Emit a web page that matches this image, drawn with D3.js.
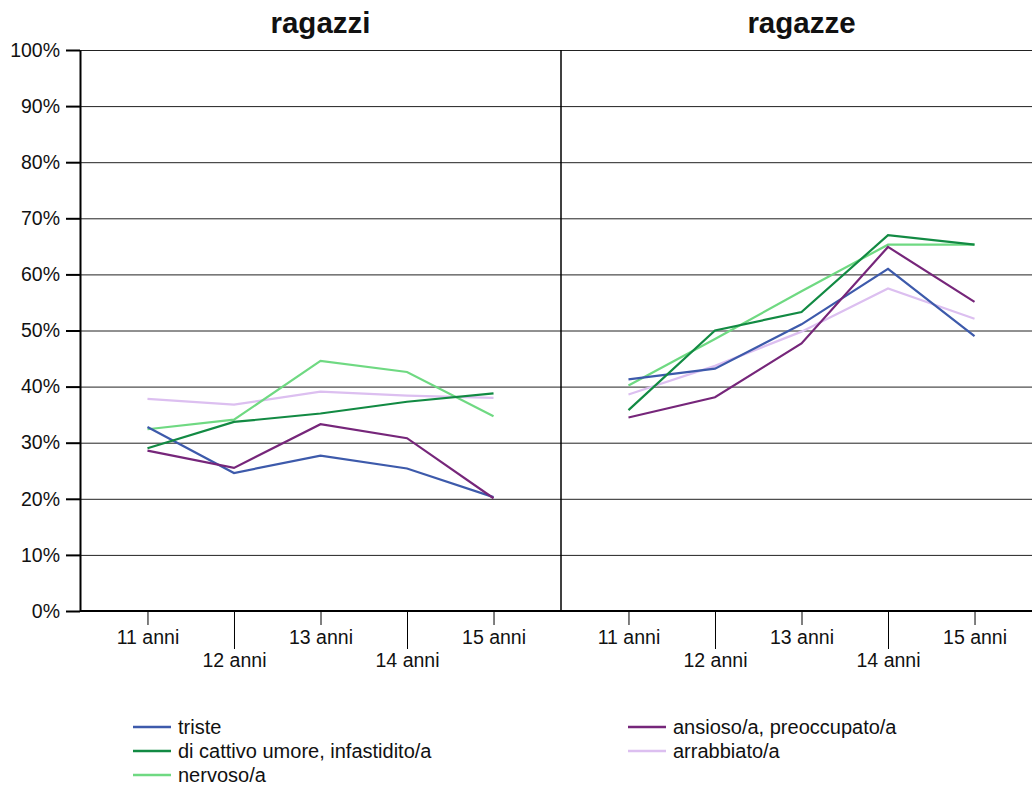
<!DOCTYPE html>
<html>
<head>
<meta charset="utf-8">
<script src="https://cdn.jsdelivr.net/npm/d3@7"></script>
<style>
  body { margin: 0; background: #fff; }
  svg { font-family: "Liberation Sans", Arial, sans-serif; display: block; }
</style>
</head>
<body>
<svg id="chart" width="1032" height="785"></svg>
<script>
// ages on the x axis
var ages = ["11 anni", "12 anni", "13 anni", "14 anni", "15 anni"];
var yTicks = [0, 10, 20, 30, 40, 50, 60, 70, 80, 90, 100];
var panels = ["ragazzi", "ragazze"];

var seriesNames = ["triste", "ansioso/a, preoccupato/a", "di cattivo umore, infastidito/a", "arrabbiato/a", "nervoso/a"];
var seriesColors = ["#3d5aab", "#76267a", "#128a43", "#dcbff0", "#6fd982"];

// ragazzi (boys), % per age
var boysTriste     = [32.8, 24.6, 27.7, 25.4, 20.3];
var boysAnsioso    = [28.6, 25.5, 33.3, 30.8, 20.1];
var boysCattivo    = [29.0, 33.7, 35.2, 37.3, 38.8];
var boysArrabbiato = [37.8, 36.8, 39.1, 38.4, 38.0];
var boysNervoso    = [32.4, 34.1, 44.6, 42.6, 34.7];

// ragazze (girls), % per age
var girlsTriste     = [41.3, 43.2, 51.1, 61.0, 49.0];
var girlsAnsioso    = [34.5, 38.1, 47.7, 64.9, 55.1];
var girlsCattivo    = [35.8, 50.0, 53.3, 67.0, 65.3];
var girlsArrabbiato = [38.6, 43.7, 49.8, 57.5, 52.1];
var girlsNervoso    = [40.2, 48.5, 57.0, 65.3, 65.3];

var panelData = [
  [boysTriste, boysAnsioso, boysCattivo, boysArrabbiato, boysNervoso],
  [girlsTriste, girlsAnsioso, girlsCattivo, girlsArrabbiato, girlsNervoso]
];

// draw order (back to front) as in the picture
var drawOrder = [3, 4, 0, 1, 2];

var svg = d3.select("#chart");
var plotLeft = 80, plotTop = 50, plotBottom = 611, panelW = 481;
var fontFam = "Liberation Sans, Arial, sans-serif";

var y = d3.scaleLinear().domain([0, 100]).range([plotBottom, plotTop]);

// gridlines
svg.append("g")
  .attr("transform", `translate(${plotLeft},0)`)
  .call(d3.axisLeft(y).tickValues(yTicks).tickSize(-(1032 - plotLeft)).tickFormat(""))
  .call(g => g.select(".domain").remove())
  .call(g => g.selectAll(".tick line").attr("stroke", "#222").attr("stroke-width", 1));

// y axis
svg.append("g")
  .attr("transform", `translate(${plotLeft},0)`)
  .call(d3.axisLeft(y).tickValues(yTicks).tickSize(14).tickSizeOuter(0).tickPadding(6).tickFormat(d => d + "%"))
  .call(g => g.select(".domain").attr("stroke", "#000").attr("stroke-width", 2))
  .call(g => g.selectAll(".tick line").attr("stroke", "#000").attr("stroke-width", 2))
  .call(g => g.selectAll(".tick text").attr("font-size", 19.5).attr("fill", "#111").attr("font-family", fontFam));

var line = d3.line();

panels.forEach(function(title, p) {
  var x0 = plotLeft + p * panelW;
  var x = d3.scalePoint().domain(ages).range([x0, x0 + panelW]).padding(0.78);

  // x axis with alternating tick lengths
  var ax = svg.append("g")
    .attr("transform", `translate(0,${plotBottom})`)
    .call(d3.axisBottom(x).tickSizeOuter(0).tickSize(14))
    .call(g => g.select(".domain").attr("stroke", "#000").attr("stroke-width", 2)
      .attr("d", `M${x0},0H${x0 + panelW}`))
    .call(g => g.selectAll(".tick text").attr("font-size", 19.5).attr("fill", "#111").attr("font-family", fontFam));
  ax.selectAll(".tick").each(function(d, i) {
    var t = d3.select(this);
    t.select("line").attr("stroke", "#000").attr("y2", i % 2 ? 38 : 14);
    t.select("text").attr("y", i % 2 ? 42 : 19);
  });

  // panel separator
  if (p > 0) {
    svg.append("line")
      .attr("x1", x0).attr("x2", x0)
      .attr("y1", y(100)).attr("y2", y(0))
      .attr("stroke", "#000").attr("stroke-width", 1.5);
  }

  // title
  svg.append("text")
    .attr("x", x(ages[2]))
    .attr("y", 33)
    .attr("text-anchor", "middle")
    .attr("font-size", 29.5)
    .attr("font-weight", "bold")
    .attr("fill", "#111")
    .text(title);

  drawOrder.forEach(function(s) {
    var vals = panelData[p][s];
    svg.append("path")
      .attr("fill", "none")
      .attr("stroke", seriesColors[s])
      .attr("stroke-width", 2.2)
      .attr("d", line(vals.map((v, i) => [x(ages[i]), y(v)])));
  });
});

// legend
var legendPos = [
  [133, 727], [628, 727],
  [133, 751], [628, 751],
  [133, 775]
];
var legendOrder = [0, 1, 2, 3, 4];
legendOrder.forEach(function(s, k) {
  var pos = legendPos[k];
  var g = svg.append("g").attr("transform", `translate(${pos[0]},${pos[1]})`);
  g.append("line").attr("x1", 0).attr("x2", 38).attr("y1", 0).attr("y2", 0)
    .attr("stroke", seriesColors[s]).attr("stroke-width", 2.5);
  g.append("text").attr("x", 45).attr("y", 0).attr("dy", "0.35em")
    .attr("font-size", 20).attr("fill", "#111").text(seriesNames[s]);
});
</script>
</body>
</html>
